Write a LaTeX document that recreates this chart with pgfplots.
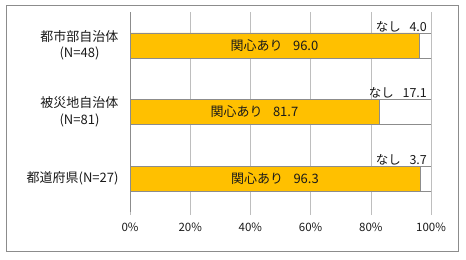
\documentclass[border=0pt]{standalone}
\usepackage{fontspec}
\setmainfont{Noto Sans CJK JP}
\usepackage{pgfplots}
\usepackage{pgfplotstable}
\pgfplotsset{compat=1.18}

\definecolor{barorange}{HTML}{FFC000}
\definecolor{barline}{HTML}{8C8C8C}
\definecolor{gridgray}{HTML}{BEBEBE}
\definecolor{axisgray}{HTML}{8C8C8C}
\definecolor{txt}{HTML}{1A1A1A}

% interest (yes) / no interest (no), in percent
\pgfplotstableread{
idx yes no
0 96.0 4.0
1 81.7 17.1
2 96.3 3.7
}\interesttable

\begin{document}
\begin{tikzpicture}
\path[use as bounding box] (0,0) rectangle (466bp,260bp);
\draw[color=axisgray, line width=0.8bp] (6bp,9bp) rectangle (458bp,255bp);
\begin{axis}[
  at={(130bp,48bp)}, anchor=south west,
  scale only axis, width=301bp, height=200bp,
  xbar stacked, bar width=25bp,
  xmin=0, xmax=100,
  ymin=-0.5, ymax=2.5, y dir=reverse,
  axis x line*=bottom, axis y line*=left,
  x axis line style={draw=none},
  y axis line style={draw=axisgray, line width=0.6bp},
  xtick={0,20,40,60,80,100},
  xticklabels={0\%,20\%,40\%,60\%,80\%,100\%},
  xmajorgrids, major x grid style={draw=gridgray, line width=0.6bp},
  tick align=outside,
  major tick length=3bp,
  xtick style={draw=gridgray, line width=0.6bp},
  ytick={0,1,2},
  yticklabels={{都市部自治体\\(N=48)},{被災地自治体\\(N=81)},{都道府県(N=27)}},
  major y tick style={draw=none},
  extra y ticks={-0.5,0.5,1.5,2.5},
  extra y tick labels={},
  extra y tick style={major tick length=4bp, tick style={draw=axisgray, line width=0.6bp}},
  yticklabel style={align=center, font=\fontsize{13bp}{16.5bp}\selectfont, text=txt, xshift=-5bp},
  xticklabel style={font=\fontsize{11.5bp}{14bp}\selectfont, text=txt, yshift=-4bp},
  point meta=explicit symbolic,
  nodes near coords,
]
% labels of stacked segments sit at the middle of each segment
\addplot[fill=barorange, draw=barline, line width=0.6bp,
  nodes near coords={関心あり\hspace{0.8em}\pgfplotspointmeta},
  nodes near coords style={anchor=center,
    font=\fontsize{13bp}{15bp}\selectfont, text=txt}]
  table[y=idx, x expr=\thisrow{yes}*100/(\thisrow{yes}+\thisrow{no}), meta=yes]{\interesttable};
% the "no" label is moved from the segment middle out to the 100% end
\addplot[fill=white, draw=barline, line width=0.6bp,
  visualization depends on={\thisrow{no}*100/(\thisrow{yes}+\thisrow{no}) \as \nopct},
  nodes near coords={なし\hspace{0.7em}\pgfplotspointmeta},
  nodes near coords style={anchor=south east, yshift=10bp, xshift=\nopct*1.505bp-0.5bp,
    font=\fontsize{12.5bp}{15bp}\selectfont, text=txt}]
  table[y=idx, x expr=\thisrow{no}*100/(\thisrow{yes}+\thisrow{no}), meta=no]{\interesttable};
\end{axis}
\end{tikzpicture}
\end{document}
